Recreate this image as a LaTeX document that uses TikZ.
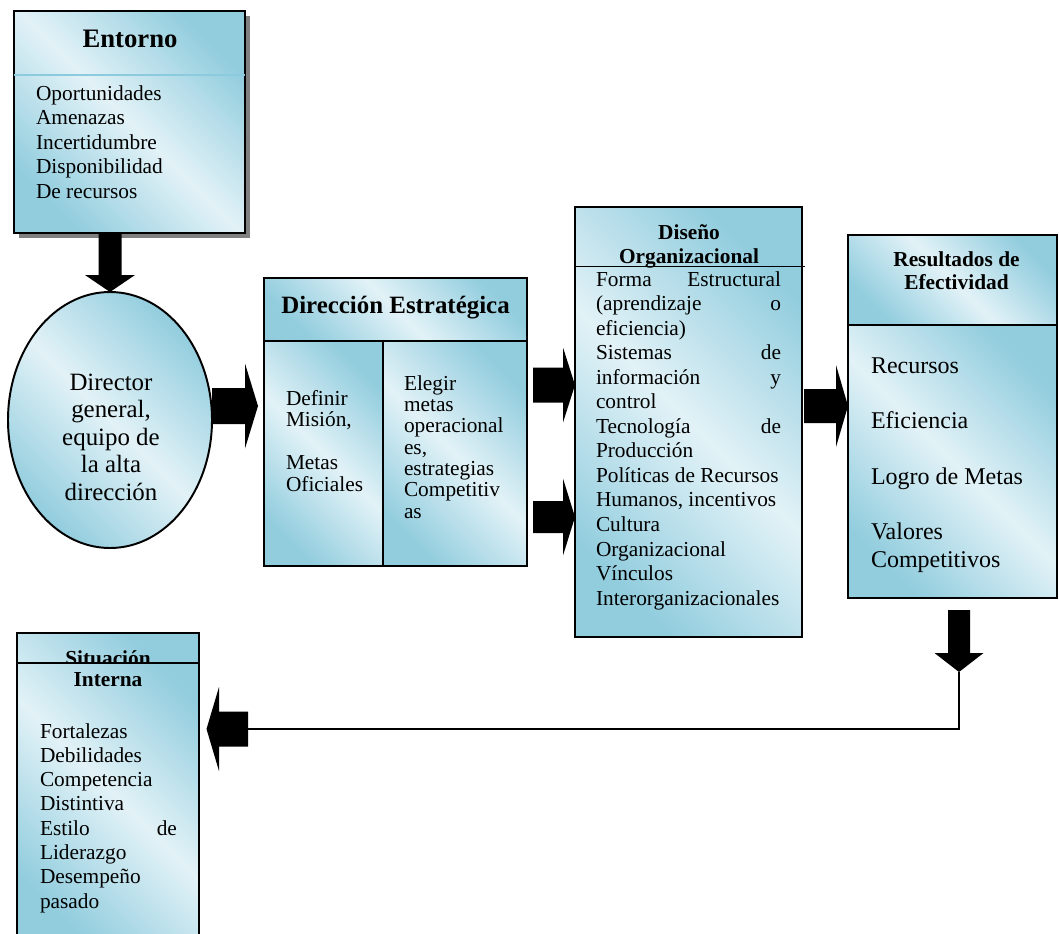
\documentclass[tikz,border=0pt]{standalone}
\usepackage{fontspec}
\setmainfont{Liberation Serif}
\usetikzlibrary{calc,fit,shapes.geometric}

\definecolor{bdark}{RGB}{146,205,222}
\definecolor{blight}{RGB}{226,242,247}
\definecolor{sepblue}{RGB}{140,202,222}
\definecolor{shadowgray}{RGB}{128,128,128}

% one unit of the drawing grid
\newcommand\pxu{0.5622pt}

\tikzset{
  panel/.style={draw=black, line width=1.1pt, top color=bdark, bottom color=bdark,
    middle color=blight, shading angle=-45, inner sep=0pt, outer sep=0pt},
  txt/.style={inner sep=0pt, outer sep=0pt, anchor=base west},
  ctxt/.style={inner sep=0pt, outer sep=0pt, anchor=base},
  blk/.style={fill=black},
  rule/.style={line width=1.1pt},
}

% block arrows: start, tip, shaft half width, head half width, head length
\newcommand\arrR[5]{\fill[blk] ($(#1)+(0,-#3)$) -- ($(#2)+(-#5,-#3)$) -- ($(#2)+(-#5,-#4)$) -- (#2)
  -- ($(#2)+(-#5,#4)$) -- ($(#2)+(-#5,#3)$) -- ($(#1)+(0,#3)$) -- cycle;}
\newcommand\arrD[5]{\fill[blk] ($(#1)+(-#3,0)$) -- ($(#2)+(-#3,-#5)$) -- ($(#2)+(-#4,-#5)$) -- (#2)
  -- ($(#2)+(#4,-#5)$) -- ($(#2)+(#3,-#5)$) -- ($(#1)+(#3,0)$) -- cycle;}
\newcommand\arrL[5]{\fill[blk] ($(#1)+(0,-#3)$) -- ($(#2)+(#5,-#3)$) -- ($(#2)+(#5,-#4)$) -- (#2)
  -- ($(#2)+(#5,#4)$) -- ($(#2)+(#5,#3)$) -- ($(#1)+(0,#3)$) -- cycle;}

\begin{document}
\begin{tikzpicture}[x=0.5622pt, y=-0.5622pt]
\useasboundingbox (0,0) rectangle (1059,933);
\fill[white] (0,0) rectangle (1059,933);

% ---- Entorno ----
\fill[shadowgray] (19,16) rectangle (250,238);
\node[panel, fit={(14,11) (245,233)}] (ent) {};
\draw[sepblue, rule] (ent.west |- 0,75) -- (ent.east |- 0,75);
\node[ctxt] (entT) at (130,47) {\fontsize{15}{16}\selectfont\bfseries Entorno};
\node[txt] (entB) at (36,100) {\parbox[t]{120pt}{\fontsize{12}{13.8}\selectfont
  Oportunidades\\Amenazas\\Incertidumbre\\Disponibilidad\\De recursos}};

% ---- Director general ----
\node[panel, ellipse, minimum width=204*\pxu, minimum height=256*\pxu] (ell) at (110,420) {};
\node[ctxt] (ellT) at (111,390) {\parbox[t]{100pt}{\centering\fontsize{14}{15.46}\selectfont
  Director\\general,\\equipo de\\la alta\\dirección}};

% ---- Dirección Estratégica ----
\node[panel, fit={(264,278) (527,341)}] (dirT) {};
\node[panel, fit={(264,341) (383,566)}] (dirL) {};
\node[panel, fit={(383,341) (527,566)}] (dirR) {};
\node[ctxt] (dirTt) at (395.5,313) {\fontsize{14}{16}\selectfont\bfseries Dirección Estratégica};
\node[txt] (dirLt) at (286,405) {\parbox[t]{60pt}{\fontsize{12}{12.1}\selectfont
  Definir\\Misión,\\[12.1pt]Metas\\Oficiales}};
\node[txt] (dirRt) at (404,390) {\parbox[t]{70pt}{\fontsize{12}{12}\selectfont
  Elegir\\metas\\operacional\\es,\\estrategias\\Competitiv\\as}};

% ---- Diseño Organizacional ----
\node[panel, fit={(575,207) (802,637)}] (dis) {};
\node[ctxt] (disT) at (689,239) {\parbox[t]{150pt}{\centering\fontsize{12}{13.8}\selectfont\bfseries
  Diseño\\Organizacional}};
\draw[rule] (dis.west |- 0,266.5) -- ($(dis.east |- 0,266.5)+(3,0)$);
\node[txt] (disB) at (596,286) {\parbox[t]{104pt}{\fontsize{12}{13.8}\selectfont
  Forma\hfill Estructural\\(aprendizaje\hfill o\\eficiencia)\\Sistemas\hfill de\\
  información\hfill y\\control\\Tecnología\hfill de\\Producción\\Políticas de Recursos\\
  Humanos, incentivos\\Cultura\\Organizacional\\Vínculos\\Interorganizacionales}};

% ---- Resultados de Efectividad ----
\node[panel, fit={(848,235) (1057,325)}] (resT) {};
\node[panel, fit={(848,325) (1057,598)}] (resB) {};
\node[ctxt] (resTt) at (956.5,266) {\parbox[t]{110pt}{\centering\fontsize{12}{13.2}\selectfont\bfseries
  Resultados de\\Efectividad}};
\node[txt] (resBt) at (871,373) {\parbox[t]{100pt}{\fontsize{13.5}{15.6}\selectfont
  Recursos\\[15.6pt]Eficiencia\\[15.6pt]Logro de Metas\\[15.6pt]Valores\\Competitivos}};

% ---- Situación Interna ----
\node[panel, fit={(17,633) (199,945)}] (sit) {};
\begin{scope}
  \clip (17,633) rectangle (199,662.7);
  \node[ctxt] (sitT) at (108,665.5) {\fontsize{12}{13.8}\selectfont\bfseries Situación};
\end{scope}
\draw[rule] (sit.west |- 0,662.7) -- (sit.east |- 0,662.7);
\node[ctxt] (sitT2) at (108,686) {\fontsize{12}{13.8}\selectfont\bfseries Interna};
\node[txt] (sitB) at (40,738) {\parbox[t]{77pt}{\fontsize{12}{13.66}\selectfont
  Fortalezas\\Debilidades\\Competencia\\Distintiva\\Estilo\hfill de\\Liderazgo\\Desempeño\\pasado}};

% ---- connectors ----
\coordinate (a5e) at (ell.north);
\coordinate (a5s) at (ell.north |- ent.south);
\arrD{a5s}{a5e}{11.5}{25}{17}

\coordinate (a1s) at (ell.east |- 0,406);
\coordinate (a1e) at (258,406);
\arrR{a1s}{a1e}{18}{42.5}{13}

\coordinate (a2s) at (533,385);
\coordinate (a2e) at (dis.west |- a2s);
\arrR{a2s}{a2e}{17.5}{37.5}{12}

\coordinate (a3s) at (533,517);
\coordinate (a3e) at (dis.west |- a3s);
\arrR{a3s}{a3e}{16}{38.5}{12}

\coordinate (a4s) at (804,406);
\coordinate (a4e) at (resB.west |- a4s);
\arrR{a4s}{a4e}{17}{41}{12}

\coordinate (a6s) at (959,610);
\coordinate (a6e) at (959,672);
\arrD{a6s}{a6e}{11}{24.5}{19}

\coordinate (a7s) at (248,729);
\coordinate (a7e) at (sit.east |- a7s);
\coordinate (a7t) at ($(a7e)+(7.5,0)$);
\arrL{a7s}{a7t}{17.5}{42}{12.5}
\draw[rule] (a6e) |- (a7s);
\end{tikzpicture}
\end{document}
